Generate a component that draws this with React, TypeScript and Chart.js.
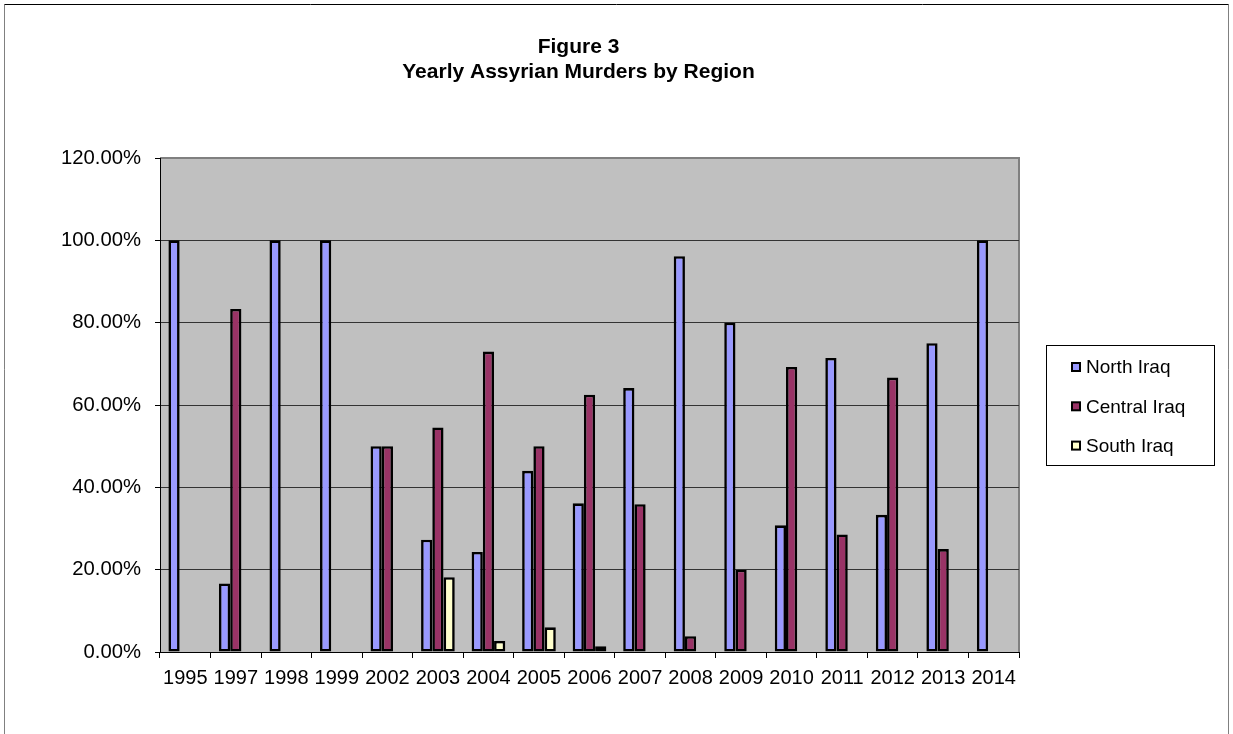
import React, { useEffect, useRef } from "react";
import { Chart, registerables } from "chart.js";

Chart.register(...registerables);

const years = ["1995", "1997", "1998", "1999", "2002", "2003", "2004", "2005", "2006", "2007", "2008", "2009", "2010", "2011", "2012", "2013", "2014"];
const northIraq = [100, 16.67, 100, 100, 50, 27.27, 24.32, 44, 36.11, 64.1, 96.15, 80, 30.77, 71.43, 33.33, 75, 100];
const centralIraq = [0, 83.33, 0, 0, 50, 54.55, 72.97, 50, 62.5, 35.9, 3.85, 20, 69.23, 28.57, 66.67, 25, 0];
const southIraq = [0, 0, 0, 0, 0, 18.18, 2.7, 6, 1.39, 0, 0, 0, 0, 0, 0, 0, 0];
const seriesNames = ["North Iraq", "Central Iraq", "South Iraq"];
const seriesColors = ["#9999FF", "#993366", "#FFFFCC"];
const titleLines = ["Figure 3", "Yearly Assyrian Murders by Region"];

const FONT = "'Liberation Sans', Arial, sans-serif";

const framePlugin = {
  id: "frame",
  beforeDraw(chart: any) {
    const { ctx, chartArea } = chart;
    ctx.save();
    ctx.fillStyle = "#ffffff";
    ctx.fillRect(0, 0, chart.width, chart.height);
    // outer border
    ctx.lineWidth = 1;
    ctx.strokeStyle = "#808080";
    ctx.beginPath();
    ctx.moveTo(4.5, chart.height + 5);
    ctx.lineTo(4.5, 4.5);
    ctx.stroke();
    ctx.beginPath();
    ctx.moveTo(1228.5, 4.5);
    ctx.lineTo(1228.5, chart.height + 5);
    ctx.stroke();
    ctx.strokeStyle = "#000000";
    ctx.beginPath();
    ctx.moveTo(4.5, 4.5);
    ctx.lineTo(1228.5, 4.5);
    ctx.stroke();
    // plot background
    ctx.fillStyle = "#C0C0C0";
    ctx.fillRect(chartArea.left, chartArea.top, chartArea.right - chartArea.left, chartArea.bottom - chartArea.top);
    ctx.strokeStyle = "#808080";
    ctx.lineWidth = 2;
    ctx.beginPath();
    ctx.moveTo(chartArea.left, chartArea.top);
    ctx.lineTo(chartArea.right, chartArea.top);
    ctx.lineTo(chartArea.right, chartArea.bottom);
    ctx.stroke();
    // title
    ctx.fillStyle = "#000000";
    ctx.font = `bold 21px ${FONT}`;
    ctx.textAlign = "center";
    ctx.textBaseline = "alphabetic";
    ctx.fillText(titleLines[0], 578.5, 53);
    ctx.fillText(titleLines[1], 578.5, 77.5);
    ctx.restore();
  },
  afterDraw(chart: any) {
    const { ctx } = chart;
    ctx.save();
    // legend box
    const bx = 1046.5, by = 345.5, bw = 168, bh = 120;
    ctx.fillStyle = "#ffffff";
    ctx.fillRect(bx, by, bw, bh);
    ctx.strokeStyle = "#000000";
    ctx.lineWidth = 1;
    ctx.strokeRect(bx, by, bw, bh);
    ctx.font = `19px ${FONT}`;
    ctx.textAlign = "left";
    ctx.textBaseline = "middle";
    chart.data.datasets.forEach((ds: any, i: number) => {
      const cy = 367 + i * 39.3;
      ctx.fillStyle = ds.backgroundColor;
      ctx.fillRect(1072, cy - 4, 8, 8);
      ctx.strokeStyle = "#000000";
      ctx.lineWidth = 2;
      ctx.strokeRect(1072, cy - 4, 8, 8);
      ctx.fillStyle = "#000000";
      ctx.fillText(ds.label, 1086, cy + 1);
    });
    ctx.restore();
  },
};

export default function App() {
  const ref = useRef<HTMLCanvasElement | null>(null);
  useEffect(() => {
    if (!ref.current) return;
    const seriesData = [northIraq, centralIraq, southIraq];
    const chart = new Chart(ref.current, {
      type: "bar",
      data: {
        labels: years,
        datasets: seriesData.map((d, i) => ({
          label: seriesNames[i],
          data: d,
          backgroundColor: seriesColors[i],
          borderColor: "#000000",
          borderWidth: 2.6,
          borderSkipped: false,
          barPercentage: 1,
          categoryPercentage: 3 / 4.5,
        })),
      },
      options: {
        responsive: false,
        animation: false,
        layout: { padding: { left: 0, top: 158, right: 214, bottom: 42 } },
        plugins: {
          legend: { display: false },
          title: { display: false },
          tooltip: { enabled: false },
        },
        scales: {
          x: {
            offset: true,
            grid: {
              offset: true,
              drawOnChartArea: false,
              drawTicks: true,
              tickLength: 6,
              color: "#000000",
              tickColor: "#000000",
            },
            border: { display: true, color: "#000000", width: 1 },
            ticks: {
              color: "#000000",
              font: { family: FONT, size: 20 },
              padding: 8,
              maxRotation: 0,
              autoSkip: false,
            },
            afterFit: (scale: any) => {
              scale.height = 40;
            },
          },
          y: {
            min: 0,
            max: 120,
            grid: {
              color: (c: any) => (c.tick && c.tick.value === 120 ? "rgba(0,0,0,0)" : "#333333"),
              lineWidth: 1,
              tickLength: 5,
              tickColor: "#000000",
            },
            border: { display: true, color: "#000000", width: 1 },
            ticks: {
              stepSize: 20,
              color: "#000000",
              font: { family: FONT, size: 20.3 },
              padding: 14,
              callback: (v: any) => Number(v).toFixed(2) + "%",
            },
            afterFit: (scale: any) => {
              scale.width = 160;
            },
          },
        },
      },
      plugins: [framePlugin],
    });
    return () => chart.destroy();
  }, []);
  return (
    <div style={{ position: "fixed", left: 0, top: 0, width: 1233, height: 734, background: "#fff" }}>
      <canvas ref={ref} width={1233} height={734} style={{ display: "block" }} />
    </div>
  );
}
